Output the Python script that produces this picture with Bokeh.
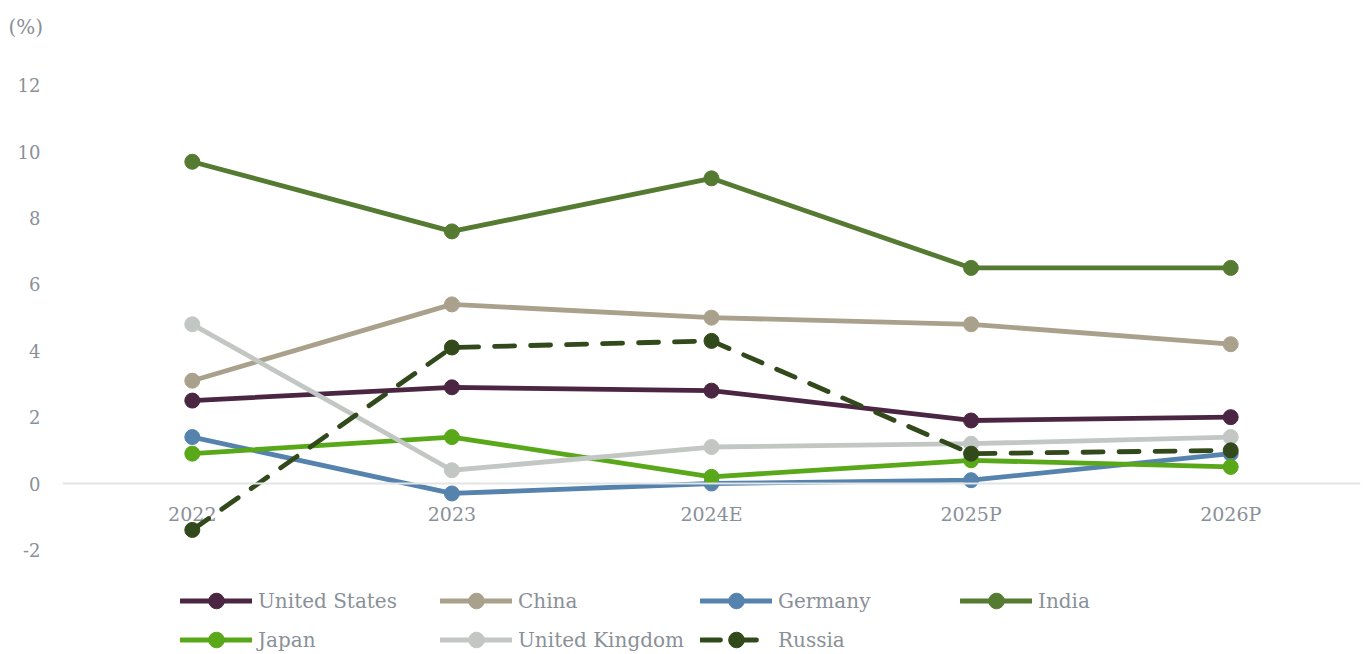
from bokeh.plotting import figure
from bokeh.models import Span, Title, FixedTicker, Range1d, FactorRange
from bokeh.core.properties import value
from bokeh.embed import file_html
from bokeh.resources import INLINE

# ---- data ----
years = ["2022", "2023", "2024E", "2025P", "2026P"]
united_states = [2.5, 2.9, 2.8, 1.9, 2.0]
china = [3.1, 5.4, 5.0, 4.8, 4.2]
germany = [1.4, -0.3, 0.0, 0.1, 0.9]
india = [9.7, 7.6, 9.2, 6.5, 6.5]
japan = [0.9, 1.4, 0.2, 0.7, 0.5]
united_kingdom = [4.8, 0.4, 1.1, 1.2, 1.4]
russia = [-1.4, 4.1, 4.3, 0.9, 1.0]
y_ticks = [-2, 0, 2, 4, 6, 8, 10, 12]
unit_label = "(%)"

series = [
    ("United States", united_states, "#4b2642", "solid"),
    ("China", china, "#aaa18c", "solid"),
    ("Germany", germany, "#5583ad", "solid"),
    ("India", india, "#557a31", "solid"),
    ("Japan", japan, "#58a81a", "solid"),
    ("United Kingdom", united_kingdom, "#c2c7c4", "solid"),
    ("Russia", russia, "#324a1b", "20 16"),
]

FONT = "DejaVu Serif"
GRAY = "#8a9097"

W, H = 1362, 654
p = figure(
    width=W, height=H,
    x_range=FactorRange(*years, range_padding=0),
    y_range=Range1d(-5.155, 13.205),
    x_axis_location=None,
    output_backend="svg",
    toolbar_location=None,
    min_border_left=62, min_border_right=2,
    min_border_top=45, min_border_bottom=0,
)
p.outline_line_color = None
p.xgrid.visible = False
p.ygrid.visible = False
p.background_fill_color = "white"
p.border_fill_color = "white"

ax = p.yaxis[0]
ax.ticker = FixedTicker(ticks=y_ticks)
ax.major_label_overrides = {t: str(t) for t in y_ticks}
ax.axis_line_color = None
ax.major_tick_line_color = None
ax.minor_tick_line_color = None
ax.major_label_standoff = 16
ax.major_label_text_font = FONT
ax.major_label_text_font_size = "18px"
ax.major_label_text_color = GRAY

p.add_layout(Span(location=0, dimension="width", line_color="#e2e5e5", line_width=2))

# x category labels just below zero line
p.text(x=years, y=[0] * len(years), text=years, y_offset=30,
       text_align="center", text_baseline="middle",
       text_font=value(FONT), text_font_size="19px", text_color=GRAY)

for name, vals, color, dash in series:
    p.line(years, vals, line_color=color, line_width=4.8, line_dash=dash,
           line_cap="round", legend_label=name)
    p.scatter(years, vals, size=15, fill_color=color, line_color=color,
              legend_label=name)

lg = p.legend[0]
lg.location = (118, -5)
lg.orientation = "horizontal"
lg.ncols = 4
lg.glyph_width = 72
lg.glyph_height = 39
lg.label_height = 39
lg.label_width = 182
lg.label_standoff = 6
lg.spacing = 0
lg.padding = 0
lg.margin = 0
lg.border_line_color = None
lg.background_fill_alpha = 0
lg.label_text_font = FONT
lg.label_text_font_size = "20px"
lg.label_text_color = GRAY
lg.click_policy = "none"

p.add_layout(Title(text=unit_label, align="left", offset=-54, standoff=13,
                   text_font=FONT, text_font_size="20px", text_font_style="normal",
                   text_color=GRAY), "above")

open("out.html", "w").write(file_html(p, INLINE))
